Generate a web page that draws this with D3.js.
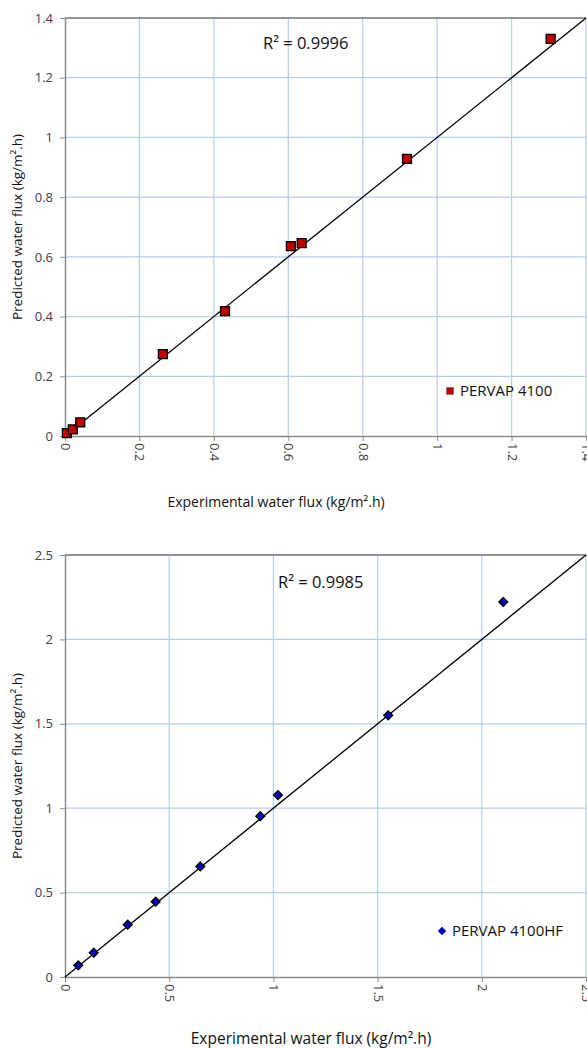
<!DOCTYPE html>
<html><head><meta charset="utf-8">
<script src="https://cdn.jsdelivr.net/npm/d3@7"></script>
<style>body{margin:0;background:#fff}svg{display:block}</style>
</head><body>
<svg id="c" width="587" height="1048"></svg>
<script>
// Chart 1: PERVAP 4100
const exp1 = [0.005, 0.021, 0.041, 0.263, 0.430, 0.607, 0.636, 0.919, 1.305];
const pred1 = [0.010, 0.022, 0.046, 0.274, 0.418, 0.636, 0.646, 0.928, 1.330];
const ticks1 = [0, 0.2, 0.4, 0.6, 0.8, 1, 1.2, 1.4];
const r2Label1 = "R² = 0.9996";
const series1 = "PERVAP 4100";
// Chart 2: PERVAP 4100HF
const exp2 = [0.064, 0.138, 0.301, 0.435, 0.649, 0.937, 1.022, 1.551, 2.103];
const pred2 = [0.069, 0.144, 0.310, 0.446, 0.655, 0.953, 1.078, 1.550, 2.222];
const ticks2 = [0, 0.5, 1, 1.5, 2, 2.5];
const r2Label2 = "R² = 0.9985";
const series2 = "PERVAP 4100HF";
const xTitle = "Experimental water flux (kg/m².h)";
const yTitle = "Predicted water flux (kg/m².h)";

const svg = d3.select("#c");
const FONT = "'Open Sans', sans-serif";

function chart(cfg) {
  const g = svg.append("g");
  const x = d3.scaleLinear().domain([0, cfg.max]).range([cfg.left, cfg.right]);
  const y = d3.scaleLinear().domain([0, cfg.max]).range([cfg.bottom, cfg.top]);
  // gridlines
  g.append("g").selectAll("line").data(cfg.ticks.slice(1)).join("line")
    .attr("x1", d => x(d)).attr("x2", d => x(d)).attr("y1", cfg.top).attr("y2", cfg.bottom)
    .attr("stroke", "#b8cde6").attr("stroke-width", 1.2);
  g.append("g").selectAll("line").data(cfg.ticks.slice(1)).join("line")
    .attr("y1", d => y(d)).attr("y2", d => y(d)).attr("x1", cfg.left).attr("x2", cfg.right)
    .attr("stroke", "#b8cde6").attr("stroke-width", 1.2);
  // top border
  g.append("line").attr("x1", cfg.left).attr("x2", cfg.right).attr("y1", cfg.top).attr("y2", cfg.top)
    .attr("stroke", "#7a7a7a").attr("stroke-width", 1.3);
  // axes
  const xa = g.append("g").attr("transform", `translate(0,${cfg.bottom})`)
    .call(d3.axisBottom(x).tickValues(cfg.ticks).tickSize(5).tickSizeOuter(0).tickFormat(d3.format("")));
  xa.select(".domain").attr("stroke", "#8c8c8c").attr("stroke-width", 1.5);
  xa.selectAll(".tick line").attr("stroke", "#8c8c8c");
  xa.selectAll(".tick text")
    .attr("transform", "rotate(90)").attr("x", 7).attr("y", 0).attr("dy", "0.35em")
    .attr("text-anchor", "start").attr("fill", "#404040")
    .style("font-family", FONT).style("font-size", "13px");
  const ya = g.append("g").attr("transform", `translate(${cfg.left},0)`)
    .call(d3.axisLeft(y).tickValues(cfg.ticks).tickSize(5).tickSizeOuter(0).tickFormat(d3.format("")));
  ya.select(".domain").attr("stroke", "#8c8c8c").attr("stroke-width", 1.5);
  ya.selectAll(".tick line").attr("stroke", "#8c8c8c");
  ya.selectAll(".tick text").attr("x", -12).attr("fill", "#404040")
    .style("font-family", FONT).style("font-size", "13px");
  // y=x line
  g.append("line").attr("x1", x(0)).attr("y1", y(0)).attr("x2", x(cfg.max)).attr("y2", y(cfg.max))
    .attr("stroke", "#000").attr("stroke-width", 1.3);
  // points
  const data = cfg.xs.map((v, i) => [v, cfg.ys[i]]);
  const sym = d3.symbol().type(cfg.shape).size(cfg.size);
  g.append("g").selectAll("path").data(data).join("path")
    .attr("d", sym).attr("transform", d => `translate(${x(d[0])},${y(d[1])})`)
    .attr("fill", cfg.color).attr("stroke", "#000").attr("stroke-width", 1.3);
  // R2 label
  g.append("text").attr("x", cfg.r2x).attr("y", cfg.r2y).text(cfg.r2)
    .attr("fill", "#111").style("font-family", FONT).style("font-size", "16.5px");
  // legend
  g.append("path").attr("d", d3.symbol().type(cfg.shape).size(cfg.legSize)())
    .attr("transform", `translate(${cfg.legX},${cfg.legY})`)
    .attr("fill", cfg.color).attr("stroke", cfg.shape === d3.symbolSquare ? "#777" : "none").attr("stroke-width", 0.8);
  g.append("text").attr("x", cfg.legX + 10).attr("y", cfg.legY).attr("dy", "0.35em").text(cfg.series)
    .attr("fill", "#111").style("font-family", FONT).style("font-size", cfg.legFont);
  // axis titles
  g.append("text").attr("x", cfg.xtX).attr("y", cfg.xtY).attr("text-anchor", "middle").text(xTitle)
    .attr("fill", "#111").style("font-family", FONT).style("font-size", cfg.xtFont);
  g.append("text").attr("transform", `translate(22,${(cfg.top + cfg.bottom) / 2}) rotate(-90)`)
    .attr("text-anchor", "middle").text(yTitle)
    .attr("fill", "#111").style("font-family", FONT).style("font-size", "13.5px");
}

chart({max: 1.4, ticks: ticks1, left: 65, right: 586, top: 18, bottom: 436,
  xs: exp1, ys: pred1, color: "#c00000", shape: d3.symbolSquare, size: 80, legSize: 50,
  r2: r2Label1, r2x: 263, r2y: 49, series: series1, legX: 450, legY: 391, legFont: "15px",
  xtX: 276, xtY: 507, xtFont: "14px"});
chart({max: 2.5, ticks: ticks2, left: 65, right: 586, top: 555, bottom: 977,
  xs: exp2, ys: pred2, color: "#0000c0", shape: d3.symbolDiamond2, size: 50, legSize: 45,
  r2: r2Label2, r2x: 278, r2y: 588, series: series2, legX: 442, legY: 931, legFont: "15px",
  xtX: 311, xtY: 1044, xtFont: "15.5px"});
</script>
</body></html>
